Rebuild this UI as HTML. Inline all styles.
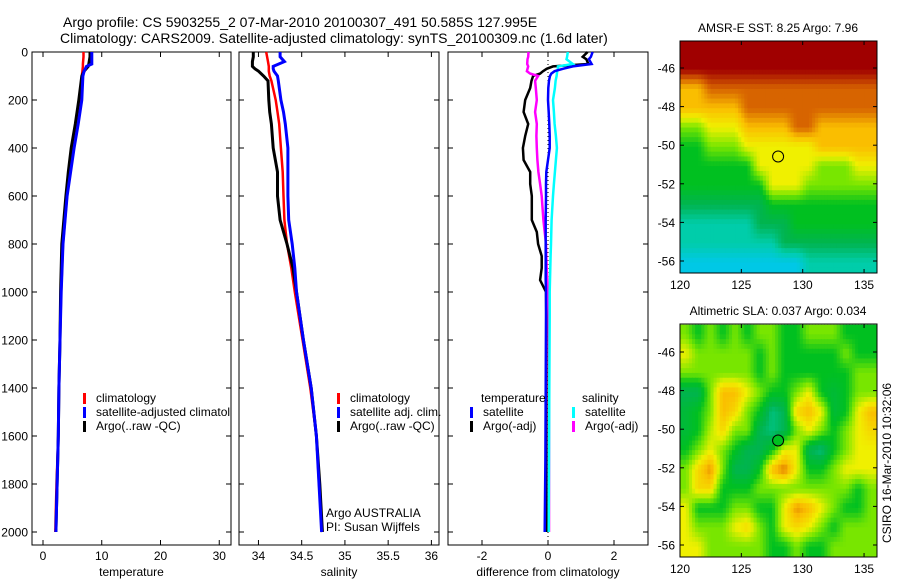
<!DOCTYPE html>
<html><head><meta charset="utf-8">
<style>
body{margin:0;background:#fff;}
svg text{font-family:"Liberation Sans",sans-serif;fill:#000;}
</style></head>
<body>
<svg id="fig" width="900" height="580" viewBox="0 0 900 580" xmlns="http://www.w3.org/2000/svg">
<defs>
<clipPath id="clipM1"><rect x="680" y="41" width="197" height="232"/></clipPath>
<clipPath id="clipM2"><rect x="680" y="324" width="197" height="233"/></clipPath>
</defs>
<text x="63" y="27" font-size="14">Argo profile: CS 5903255_2 07-Mar-2010 20100307_491 50.585S 127.995E</text>
<text x="60" y="43" font-size="14">Climatology: CARS2009. Satellite-adjusted climatology: synTS_20100309.nc (1.6d later)</text>
<g id="g"></g>
</svg>
<script>
// ---- data ----
const depthT = [0,20,50,60,80,100,200,300,400,500,600,800,1000,1200,1400,1600,1800,2000];
const tempClim = [6.9,6.9,6.8,6.8,6.7,6.6,6.4,5.8,5.2,4.6,4.1,3.4,3.1,2.9,2.7,2.6,2.3,2.1];
const tempSat = [8.3,8.3,8.3,7.4,7.0,6.8,6.6,6.0,5.3,4.7,4.1,3.4,3.1,2.9,2.7,2.6,2.4,2.2];
const tempArgo = [8.0,8.0,7.8,7.7,7.0,6.6,6.1,5.5,4.8,4.3,3.9,3.2,3.0,2.9,2.7,2.6,2.4,2.2];
const depthS = [0,20,40,60,70,80,100,120,200,250,300,400,500,600,700,800,900,1000,1200,1400,1600,1800,2000];
const salClim = [34.09,34.10,34.11,34.12,34.12,34.12,34.13,34.15,34.20,34.22,34.24,34.26,34.28,34.29,34.30,34.33,34.38,34.42,34.51,34.60,34.67,34.70,34.74];
const salSat = [34.25,34.25,34.30,34.17,34.17,34.18,34.22,34.23,34.26,34.29,34.31,34.34,34.34,34.34,34.35,34.39,34.42,34.44,34.52,34.61,34.67,34.70,34.73];
const salArgo = [33.94,33.94,33.93,33.93,33.96,34.00,34.06,34.11,34.12,34.13,34.15,34.17,34.22,34.22,34.25,34.33,34.40,34.44,34.52,34.61,34.67,34.71,34.74];
const depthD = [0,20,30,50,60,70,80,90,100,120,150,200,250,300,350,400,450,500,550,600,700,750,800,850,900,950,1000,1100,1400,1700,2000];
const dTempSat = [1.35,1.30,1.24,1.32,0.75,0.45,0.20,0.10,0.06,0.03,0.01,0.00,0.02,0.04,0.05,0.05,0.00,-0.05,-0.06,-0.06,-0.07,-0.07,-0.07,-0.07,-0.07,-0.07,-0.06,-0.06,-0.07,-0.08,-0.10];
const dSalSat = [0.60,0.58,0.56,0.75,0.30,0.30,0.28,0.27,0.26,0.23,0.21,0.15,0.18,0.20,0.24,0.27,0.24,0.21,0.18,0.15,0.11,0.10,0.09,0.08,0.07,0.06,0.05,0.05,0.04,0.03,0.02];
const dTempArgo = [1.20,1.05,1.16,1.22,0.15,-0.04,-0.15,-0.24,-0.45,-0.50,-0.54,-0.69,-0.74,-0.60,-0.69,-0.76,-0.74,-0.54,-0.54,-0.49,-0.49,-0.34,-0.30,-0.19,-0.19,-0.24,-0.06,-0.05,-0.05,-0.05,-0.05];
const dSalArgo = [-0.59,-0.60,-0.62,-0.63,-0.60,-0.62,-0.64,-0.54,-0.30,-0.39,-0.37,-0.34,-0.39,-0.34,-0.35,-0.34,-0.32,-0.29,-0.24,-0.19,-0.14,-0.10,-0.06,-0.05,-0.04,-0.02,0.00,0.02,0.03,0.03,0.03];
const depthTicks = [0,200,400,600,800,1000,1200,1400,1600,1800,2000];
const tempTicks = [0,10,20,30];
const salTicks = [34,34.5,35,35.5,36];
const diffTicks = [-2,0,2];
const lonTicks = [120,125,130,135];
const latTicks = [-46,-48,-50,-52,-54,-56];
const sstGrid = [
"9999999999999999",
"9999999999999999",
"7788888888888888",
"7777788888888888",
"5566677778877777",
"4455566666677777",
"4444446666655566",
"4444444666555555",
"3333333444444444",
"2222223334444444",
"2222222233333333",
"1111111111222222"];
const slaGrid = [
[5,4,5,4,5,4,5,5,4,4,5,5,5,4,4,4],
[6,5,5,5,5,5,4,5,4,4,4,4,4,5,4,4],
[5,5,5,5,5,5,4,5,4,4,4,4,4,4,5,5],
[3,3,5,7,7,6,5,4,4,5,6,4,3.5,4,5,5],
[3.5,4,5,7,6.5,5,4,2.5,3,6.5,7,6,3.5,4,6,7],
[3.5,4,5.5,6.5,5,5,3,2.5,3,5,6,5,4,5,6,6.5],
[4,5,6,5,4,3,3,4,6,6,3,2.5,4,5,6,6],
[5,6.5,7.5,5,3,3,4,7,7.8,6,4,4,5,6,6,6],
[5,6.5,6.5,4,4,4,5,5,5,5,5,5,5,5,4,5],
[6,4,4,4,5,5,4,4,6,7.5,7,6,5,4,4,5],
[6,5,5,5,6,6.5,5,4,6,6.5,6,5,4,5,5,5],
[6,6,5,5,5,5,5,4,4,5,4,4,5,5,5,5]];
const argoLon = 127.995, argoLat = -50.585;

// ---- helpers ----
const NS='http://www.w3.org/2000/svg';
const G=document.getElementById('g');
function el(tag,attrs,parent){const e=document.createElementNS(NS,tag);for(const k in attrs)e.setAttribute(k,attrs[k]);(parent||G).appendChild(e);return e;}
function txt(x,y,s,size,anchor,parent){const t=el('text',{x:x,y:y,'font-size':size||12,'text-anchor':anchor||'start'},parent);t.textContent=s;return t;}
const PT=52, PB=545;
const yD = d => PT + d*0.24;
function panel(x0,x1,vmin,vmax){return v => x0 + (v-vmin)/(vmax-vmin)*(x1-x0);}
const xT = panel(32,231,-1.87,32.0);
const xS = panel(239,439,33.775,36.088);
const xDf = panel(448,648,-3.03,3.03);

function axesBox(name,x0,x1,xs,ticks,fmt,label,showY){
  const g=el('g',{});
  
  
  el('rect',{x:x0,y:PT,width:x1-x0,height:PB-PT,fill:'#fff',stroke:'#000','stroke-width':1},g);
  depthTicks.forEach(d=>{
    const y=yD(d);
    el('line',{x1:x0,x2:x0+5,y1:y,y2:y,stroke:'#000'},g);
    el('line',{x1:x1-5,x2:x1,y1:y,y2:y,stroke:'#000'},g);
    if(showY){const t=txt(28,y+4.5,String(d),12,'end',g);}
  });
  ticks.forEach(v=>{
    const x=xs(v);
    el('line',{x1:x,x2:x,y1:PT,y2:PT+5,stroke:'#000'},g);
    el('line',{x1:x,x2:x,y1:PB-5,y2:PB,stroke:'#000'},g);
    const t=txt(x,PB+15,fmt(v),12,'middle',g);
    
    
  });
  const l=txt((x0+x1)/2,PB+31,label,12,'middle',g);
  
  
  return g;
}
function series(name,depths,vals,xs,color,w,parent){
  const pts=depths.map((d,i)=>xs(vals[i]).toFixed(1)+','+yD(d).toFixed(1)).join(' ');
  const p=el('polyline',{points:pts,fill:'none',stroke:color,'stroke-width':w||2.5,'stroke-linejoin':'miter'},parent);
  
  
  return p;
}
function legend(x,y,items,parent,size){
  items.forEach((it,i)=>{
    const yy=y+i*14;
    if(it[1]){const m=el('rect',{x:x,y:yy-9,width:3,height:11,fill:it[1]},parent);
      
      }
    const t=txt(x+(it[1]?13:0),yy,it[0],size||12,'start',parent);
    
    
  });
}

// panel 1 temperature
const p1=axesBox('temperature-panel',32,231,xT,tempTicks,v=>String(v),'temperature',true);
series('temp-climatology-line',depthT,tempClim,xT,'#ff0000',2.5,p1);
series('temp-argo-line',depthT,tempArgo,xT,'#000',3,p1);
series('temp-satellite-line',depthT,tempSat,xT,'#0000ff',3,p1);
legend(83,402,[['climatology','#f00'],['satellite-adjusted climatology','#00f'],['Argo(..raw -QC)','#000']],p1);

// panel 2 salinity
const p2=axesBox('salinity-panel',239,439,xS,salTicks,v=>String(v),'salinity',false);
el('rect',{x:231.5,y:380,width:7,height:60,fill:'#fff'});
series('sal-climatology-line',depthS,salClim,xS,'#ff0000',2.5,p2);
series('sal-argo-line',depthS,salArgo,xS,'#000',3,p2);
series('sal-satellite-line',depthS,salSat,xS,'#0000ff',3,p2);
legend(337,402,[['climatology','#f00'],['satellite adj. clim.','#00f'],['Argo(..raw -QC)','#000']],p2);
legend(326,517,[['Argo AUSTRALIA',null],['PI: Susan Wijffels',null]],p2);

// panel 3 differences
const p3=axesBox('difference-panel',448,648,xDf,diffTicks,v=>String(v),'difference from climatology',false);
const zl=el('line',{x1:xDf(0),x2:xDf(0),y1:PT,y2:PB,stroke:'#000','stroke-dasharray':'1,3','stroke-width':1},p3);


series('diff-temp-argo-line',depthD,dTempArgo,xDf,'#000',2.5,p3);
series('diff-sal-argo-line',depthD,dSalArgo,xDf,'#ff00ff',2.5,p3);
series('diff-sal-satellite-line',depthD,dSalSat,xDf,'#00ffff',2.5,p3);
series('diff-temp-satellite-line',depthD,dTempSat,xDf,'#0000ff',2.5,p3);
legend(481,402,[['temperature',null]],p3);
legend(470,416,[['satellite','#00f'],['Argo(-adj)','#000']],p3);
legend(582,402,[['salinity',null]],p3);
legend(572,416,[['satellite','#0ff'],['Argo(-adj)','#f0f']],p3);

// ---- maps ----
const stops=[[0,[0,120,255]],[1,[0,200,230]],[2,[0,205,170]],[3,[0,180,80]],[4,[0,192,32]],[5,[120,230,0]],[6,[240,240,0]],[7,[250,190,0]],[8,[215,100,0]],[9,[160,0,0]]];
function col(v){v=Math.max(0,Math.min(9,v));const i=Math.min(8,Math.floor(v)),f=v-i;const a=stops[i][1],b=stops[i+1][1];
  return 'rgb('+a.map((c,k)=>Math.round(c+(b[k]-c)*f)).join(',')+')';}
function map(name,top,bot,grid,title,clip,filled){
  const X0=680,X1=877;
  const lonX=lon=>680+(lon-120)*12.27;
  const m46=top===41?68:352;
  const latY=lat=>m46+(-46-lat)*19.3;
  const g=el('g',{});
  
  
  const h=el('g',{'clip-path':'url(#'+clip+')'},g);
  const latTop=-44.6;
  const rows=grid.map(r=>typeof r==='string'?r.split('').map(Number):r);
  const nR=rows.length,nC=rows[0].length;
  const cw=(X1-X0)/nC, ch=19.3, y0=latY(latTop);
  const S=4;
  const at=(r,c)=>rows[Math.max(0,Math.min(nR-1,r))][Math.max(0,Math.min(nC-1,c))];
  for(let i=0;i<nR*S;i++){
    for(let j=0;j<nC*S;j++){
      const fr=(i+0.5)/S-0.5, fc=(j+0.5)/S-0.5;
      const r0=Math.floor(fr), c0=Math.floor(fc), tr=fr-r0, tc=fc-c0;
      const v=(1-tr)*((1-tc)*at(r0,c0)+tc*at(r0,c0+1))+tr*((1-tc)*at(r0+1,c0)+tc*at(r0+1,c0+1));
      const cell=el('rect',{x:(X0+j*cw/S-0.3).toFixed(2),y:(y0+i*ch/S-0.3).toFixed(2),width:(cw/S+0.6).toFixed(2),height:(ch/S+0.6).toFixed(2),fill:col(v)},h);
      
      
    }
  }
  el('rect',{x:X0,y:top,width:X1-X0,height:bot-top,fill:'none',stroke:'#000'},g);
  lonTicks.forEach(l=>{const x=lonX(l);el('line',{x1:x,x2:x,y1:top,y2:top+4,stroke:'#000'},g);el('line',{x1:x,x2:x,y1:bot-4,y2:bot,stroke:'#000'},g);
    const t=txt(x,bot+16,String(l),12,'middle',g);});
  latTicks.forEach(l=>{const y=latY(l);el('line',{x1:X0,x2:X0+4,y1:y,y2:y,stroke:'#000'},g);el('line',{x1:X1-4,x2:X1,y1:y,y2:y,stroke:'#000'},g);
    const t=txt(675,y+4.5,String(l),12,'end',g);});
  const c=el('circle',{cx:lonX(argoLon),cy:latY(argoLat),r:5.5,fill:filled?col(4):'none',stroke:'#000','stroke-width':1},g);
  
  
  const t=txt(778,top-9,title,12,'middle',g);
  
  
}
map('sst-map',41,273,sstGrid,'AMSR-E SST: 8.25  Argo: 7.96','clipM1',false);
map('sla-map',324,557,slaGrid,'Altimetric SLA: 0.037  Argo: 0.034','clipM2',true);
const st=txt(0,0,'CSIRO 16-Mar-2010 10:32:06',12,'middle');
st.setAttribute('transform','translate(891,463) rotate(-90)');


</script>
</body></html>
